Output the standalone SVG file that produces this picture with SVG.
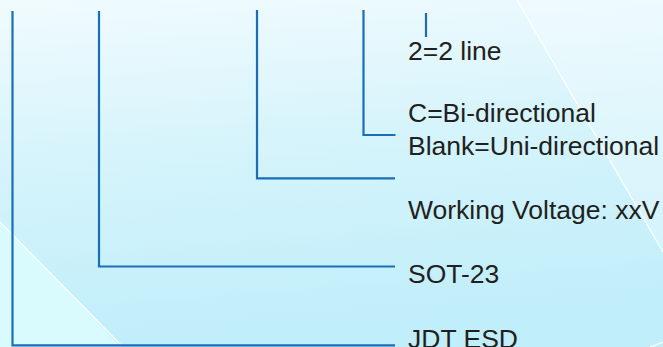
<svg xmlns="http://www.w3.org/2000/svg" width="663" height="347" viewBox="0 0 663 347">
<defs>
<linearGradient id="bg" x1="0" y1="0" x2="0.15" y2="1">
<stop offset="0" stop-color="#f1fbfe"/>
<stop offset="0.45" stop-color="#d6f4fb"/>
<stop offset="1" stop-color="#c0eefa"/>
</linearGradient>
<style>
.ln{fill:none;stroke:#1a6eb8;stroke-width:2.2;stroke-linecap:butt;stroke-linejoin:miter}
.lb{font-family:"Liberation Sans",Arial,sans-serif;font-size:26.5px;fill:#231f20}
.hl{fill:none;stroke:#ffffff;stroke-width:1.3}
</style>
</defs>
<rect width="663" height="347" fill="url(#bg)"/>
<polygon points="0,222 121,347 0,347" fill="#dafbfe"/>
<polygon points="517,0 663,0 663,252" fill="#ffffff" fill-opacity="0.25"/>
<line class="hl" x1="0" y1="222" x2="121" y2="345"/>
<line class="hl" x1="517" y1="0" x2="663" y2="252"/>
<line class="hl" x1="650" y1="347" x2="663" y2="342"/>
<g id="connectors">
<polyline class="ln" points="12.5,11 12.5,345.3 395,345.3"/>
<polyline class="ln" points="99,11 99,266.5 395,266.5"/>
<polyline class="ln" points="257,10 257,178.3 395,178.3"/>
<polyline class="ln" points="363.5,10 363.5,135 395.5,135"/>
<line class="ln" x1="426" y1="13" x2="426" y2="37"/>
</g>
<g id="node-line"><text class="lb" x="408" y="59.5">2=2 line</text></g>
<g id="node-direction"><text class="lb" x="408" y="122">C=Bi-directional</text><text class="lb" x="408" y="154.5">Blank=Uni-directional</text></g>
<g id="node-voltage"><text class="lb" x="408" y="219">Working Voltage: xxV</text></g>
<g id="node-package"><text class="lb" x="408" y="282.5">SOT-23</text></g>
<g id="node-brand"><text class="lb" x="408" y="347.5">JDT ESD</text></g>
</svg>
